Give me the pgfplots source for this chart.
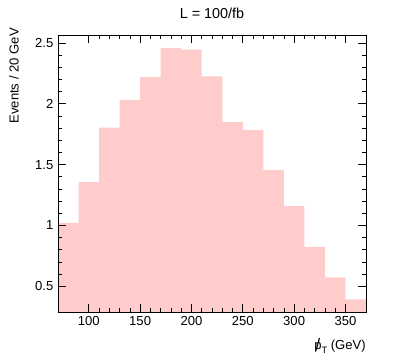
\documentclass[border=0pt]{standalone}
\usepackage{fontspec}
\setmainfont{Liberation Sans}
\usepackage{pgfplots}
\pgfplotsset{compat=1.18}
\definecolor{BarFill}{HTML}{FFCCCC}

\begin{document}
\begin{tikzpicture}[x=0.75pt,y=0.75pt]
% page frame, 407 x 360 px, axis box at (58,35)-(366,312)
\path (-58,-48) rectangle (349,312);
\begin{axis}[
  name=main, at={(0,0)}, anchor=south west,
  scale only axis, width=231pt, height=207.75pt,
  xmin=70, xmax=370, ymin=0.288, ymax=2.566,
  xtick={100,150,...,350}, minor x tick num=4,
  ytick={0.5,1,1.5,2,2.5}, minor y tick num=4,
  yticklabels={0.5,1,1.5,2,2.5},
  tick align=inside, major tick length=6pt, minor tick length=3pt,
  tick style={black, line width=0.5pt},
  axis line style={black, line width=0.6pt},
  tick label style={font=\fontsize{9.8}{11}\selectfont},
  /pgf/number format/assume math mode=true,
  axis on top,
]
\addplot[ybar interval, fill=BarFill, draw=none] coordinates {
  (70,1.02) (90,1.357) (110,1.804) (130,2.033) (150,2.22)
  (170,2.461) (190,2.445) (210,2.225) (230,1.849) (250,1.785)
  (270,1.456) (290,1.159) (310,0.823) (330,0.573) (350,0.392)
  (370,0.392)
};
\end{axis}
\node[font=\fontsize{10.8}{12}\selectfont] at (154,299) {L = 100/fb};
\node[font=\fontsize{9.8}{11}\selectfont, rotate=90, anchor=east, inner sep=0pt] at (-44,284) {Events / 20 GeV};
\node[font=\fontsize{9.8}{11}\selectfont, anchor=east, inner sep=0pt] at (308,-34) {\ooalign{\hfil\raisebox{-0.15ex}{\fontsize{12.5}{13}\selectfont/}\hfil\cr p}\raisebox{-0.5ex}{\fontsize{7}{8}\selectfont T} (GeV)};
\end{tikzpicture}
\end{document}
